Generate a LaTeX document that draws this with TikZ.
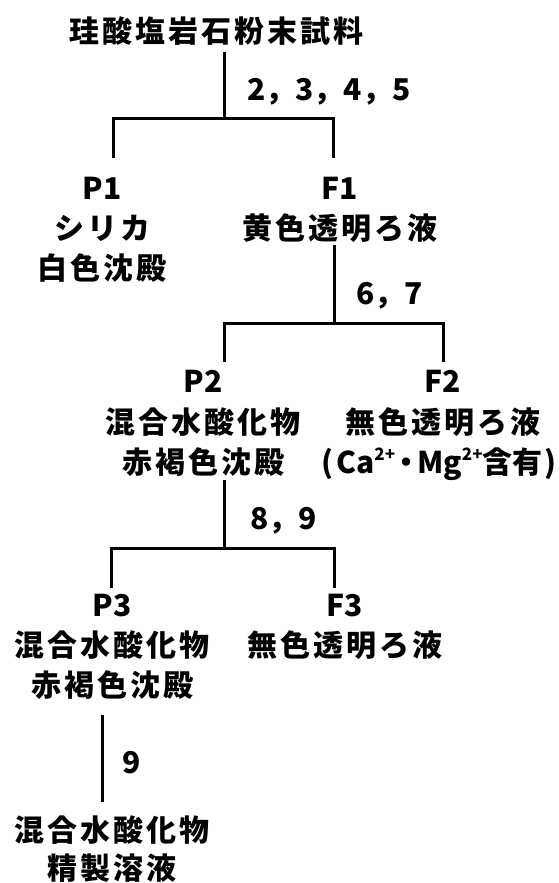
\documentclass[tikz,border=0pt]{standalone}
\usepackage{fontspec}
\setmainfont{Noto Sans CJK JP}
\newfontfamily\jpsp{Noto Sans CJK JP}[LetterSpace=10]
\newcommand{\supc}[1]{\raisebox{0.42em}{\fontsize{17}{17}\selectfont #1}}
\begin{document}
\begin{tikzpicture}[x=1pt,y=-1pt,
  txt/.style={font=\fontsize{30}{36}\selectfont\bfseries, inner sep=0pt, anchor=base},
  cjk/.style={font=\fontsize{30}{36}\selectfont\jpsp\bfseries, inner sep=0pt, anchor=base},
  lbl/.style={txt, anchor=base west},
  ln/.style={line width=3pt, line join=miter, draw=black}]
\useasboundingbox[fill=white] (0,0) rectangle (558,883);

% texts
\node[cjk] (title) at (216,43) {珪酸塩岩石粉末試料};
\node[lbl] (lab1) at (247,100) {2，3，4，5};

\node[txt] (p1a) at (102,199) {P1};
\node[cjk] (p1b) at (102,239) {シリカ};
\node[cjk] (p1c) at (102,279) {白色沈殿};

\node[txt] (f1a) at (340,199) {F1};
\node[cjk] (f1b) at (340,239) {黄色透明ろ液};

\node[lbl] (lab2) at (356,304) {6，7};

\node[txt] (p2a) at (203,392) {P2};
\node[cjk] (p2b) at (203,433) {混合水酸化物};
\node[cjk] (p2c) at (203,473) {赤褐色沈殿};

\node[txt] (f2a) at (443,392) {F2};
\node[cjk] (f2b) at (443,433) {無色透明ろ液};
\node[txt] (f2c) at (439,473) {(\kern3pt Ca\supc{2+}\kern-4pt・\kern-4pt Mg\supc{2+}含有\kern2pt)};

\node[lbl] (lab3) at (250,529) {8，9};

\node[txt] (p3a) at (112,616) {P3};
\node[cjk] (p3b) at (112,656) {混合水酸化物};
\node[cjk] (p3c) at (112,696) {赤褐色沈殿};

\node[txt] (f3a) at (345,616) {F3};
\node[cjk] (f3b) at (345,656) {無色透明ろ液};

\node[lbl] (lab4) at (122,773) {9};

\node[cjk] (enda) at (112,841) {混合水酸化物};
\node[cjk] (endb) at (112,879) {精製溶液};

% junction coordinates
\coordinate (c1t) at (224,52);  \coordinate (c1) at (224,118);
\coordinate (c1l) at (113,118); \coordinate (c1r) at (333,118);
\coordinate (c1lb) at (113,158); \coordinate (c1rb) at (333,158);
\coordinate (c2t) at (334,245); \coordinate (c2) at (334,323);
\coordinate (c2l) at (224,323); \coordinate (c2r) at (443,323);
\coordinate (c2lb) at (224,362); \coordinate (c2rb) at (443,362);
\coordinate (c3t) at (224,480); \coordinate (c3) at (224,548);
\coordinate (c3l) at (111,548); \coordinate (c3r) at (334,548);
\coordinate (c3lb) at (111,588); \coordinate (c3rb) at (334,588);
\coordinate (c4t) at (102,715); \coordinate (c4b) at (102,802);

% connectors
\draw[ln] (c1t) -- (c1);
\draw[ln] (c1lb) -- (c1l) -- (c1r) -- (c1rb);
\draw[ln] (c2t) -- (c2);
\draw[ln] (c2lb) -- (c2l) -- (c2r) -- (c2rb);
\draw[ln] (c3t) -- (c3);
\draw[ln] (c3lb) -- (c3l) -- (c3r) -- (c3rb);
\draw[ln] (c4t) -- (c4b);
\end{tikzpicture}
\end{document}
